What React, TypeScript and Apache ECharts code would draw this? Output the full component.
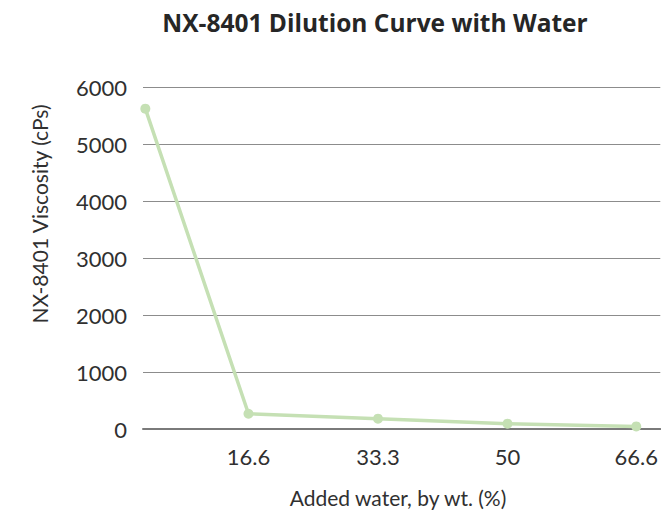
import React, { useEffect, useRef } from "react";
import * as echarts from "echarts";

const titleText = "NX-8401 Dilution Curve with Water";
const xAxisTitle = "Added water, by wt. (%)";
const yAxisTitle = "NX-8401 Viscosity (cPs)";

// Added water (% by wt.) as positioned on the horizontal axis
const waterPct = [3.3, 16.6, 33.3, 50, 66.6];
// Viscosity readings (cPs)
const viscosity = [5620, 268, 181, 93, 46];
// Labelled ticks of the horizontal axis
const xTickLabels = [16.6, 33.3, 50, 66.6];

const FONT = "Lato, 'Open Sans', sans-serif";

export default function App() {
  const ref = useRef<HTMLDivElement>(null);

  useEffect(() => {
    if (!ref.current) return;
    const chart = echarts.init(ref.current, undefined, { renderer: "svg" });
    chart.setOption({
      animation: false,
      backgroundColor: "#ffffff",
      title: {
        text: titleText,
        left: 375,
        top: 10,
        padding: 0,
        textAlign: "center",
        textStyle: {
          fontFamily: "'Open Sans', Lato, sans-serif",
          fontWeight: "bold",
          fontSize: 24.5,
          color: "#262626",
        },
      },
      grid: { left: 143, right: 0, top: 87, bottom: 84 },
      xAxis: {
        type: "value",
        min: 3,
        max: 69.7,
        axisLine: { show: true, lineStyle: { color: "#7a7a7a", width: 2 } },
        axisTick: { show: false },
        splitLine: { show: false },
        axisLabel: {
          customValues: xTickLabels,
          formatter: (v: number) => String(v),
          margin: 16,
          fontFamily: FONT,
          fontSize: 22,
          color: "#303030",
        },
      },
      yAxis: {
        type: "value",
        min: 0,
        max: 6000,
        interval: 1000,
        axisLine: { show: false },
        axisTick: { show: false },
        splitLine: { show: true, lineStyle: { color: "#8c8c8c", width: 1 } },
        axisLabel: {
          margin: 16,
          formatter: (v: number) => String(v),
          fontFamily: FONT,
          fontSize: 22,
          color: "#303030",
        },
      },
      graphic: [
        {
          type: "text",
          x: 39,
          y: 214,
          rotation: Math.PI / 2,
          style: {
            text: yAxisTitle,
            font: `21px ${FONT}`,
            fill: "#303030",
            textAlign: "center",
            textVerticalAlign: "middle",
          },
        },
        {
          type: "text",
          x: 398,
          y: 497,
          style: {
            text: xAxisTitle,
            font: `21px ${FONT}`,
            fill: "#303030",
            textAlign: "center",
            textVerticalAlign: "middle",
          },
        },
      ],
      series: [
        {
          type: "line",
          data: waterPct.map((x, i) => [x, viscosity[i]]),
          symbol: "circle",
          symbolSize: 10,
          lineStyle: { color: "#c5e0b4", width: 3.5 },
          itemStyle: { color: "#c5e0b4" },
          clip: false,
        },
      ],
    });
    return () => chart.dispose();
  }, []);

  return <div ref={ref} style={{ width: 661, height: 513, position: "absolute", left: 0, top: 0 }} />;
}
